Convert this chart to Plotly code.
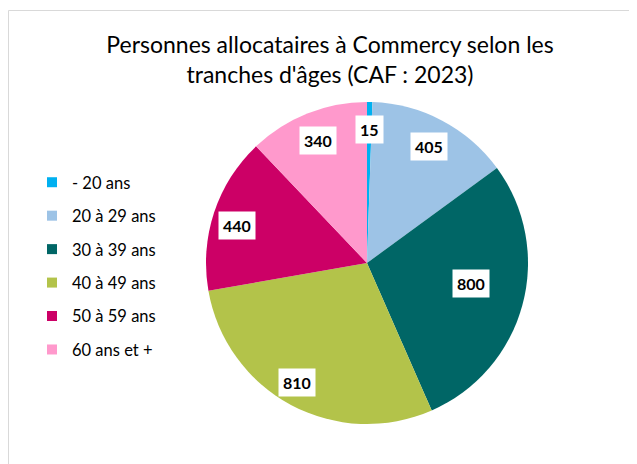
import math
import plotly.graph_objects as go

categories = ["- 20 ans", "20 à 29 ans", "30 à 39 ans", "40 à 49 ans", "50 à 59 ans", "60 ans et +"]
values = [15, 405, 800, 810, 440, 340]
colors = ["#00B0F0", "#9DC3E6", "#006666", "#B3C34A", "#CC0066", "#FF99CC"]
title_text = "Personnes allocataires à Commercy selon les<br>tranches d'âges (CAF : 2023)"

# window size and page offset (default body margin of the html page)
WIN_W, WIN_H = 637, 464
OFF = 8
W, H = WIN_W - OFF, WIN_H - OFF
FONT = "Lato"


def px_x(x):
    return (x - OFF) / W


def px_y(y):
    return 1 - (y - OFF) / H


# pie geometry in window pixels
cx, cy, R = 367, 263, 161

fig = go.Figure()
fig.add_trace(go.Pie(
    labels=categories, values=values, sort=False, direction="clockwise", rotation=0,
    marker=dict(colors=colors, line=dict(width=0)),
    textinfo="none", hoverinfo="label+value", showlegend=False,
    domain=dict(x=[px_x(cx - R), px_x(cx + R)], y=[px_y(cy + R), px_y(cy - R)]),
))

# legend entries (square markers)
for i, (c, col) in enumerate(zip(categories, colors)):
    fig.add_trace(go.Scatter(
        x=[None], y=[None], mode="markers", name=c, legendgroup=f"g{i}",
        marker=dict(symbol="square", size=10, color=col),
        showlegend=True,
    ))

# data labels with white boxes, placed along slice mid-angles (Excel "best fit" look)
label_radius = [0.83, 0.82, 0.66, 0.86, 0.84, 0.82]
label_turn = [0, 0, -4, 2, -2, 0]  # degrees of nudge from the mid-angle
total = sum(values)
cum = 0
for v, rf, dt in zip(values, label_radius, label_turn):
    mid = (cum + v / 2) / total * 2 * math.pi + math.radians(dt)
    cum += v
    lx = cx + rf * R * math.sin(mid)
    ly = cy - rf * R * math.cos(mid)
    fig.add_annotation(
        x=px_x(lx), y=px_y(ly), xref="paper", yref="paper",
        xanchor="center", yanchor="middle",
        text=f"<b>{v}</b>", showarrow=False, bgcolor="white", borderpad=4,
        font=dict(family=FONT, size=16, color="#000000"),
    )

fig.update_layout(
    width=W, height=H,
    margin=dict(l=0, r=0, t=0, b=0),
    paper_bgcolor="white", plot_bgcolor="white",
    font=dict(family=FONT, color="#000000"),
    title=dict(text=title_text, x=px_x(330), xanchor="center", y=px_y(53), yanchor="top",
               yref="container", font=dict(family=FONT, size=23, color="#000000")),
    xaxis=dict(visible=False), yaxis=dict(visible=False),
    legend=dict(x=px_x(32), xanchor="left", y=px_y(165), yanchor="top",
                tracegroupgap=9, font=dict(family=FONT, size=16.5, color="#000000"),
                bgcolor="rgba(0,0,0,0)"),
    shapes=[dict(type="rect", xref="paper", yref="paper", x0=px_x(8.5), x1=1.02, y0=-0.02, y1=px_y(10.5),
                 line=dict(color="#D9D9D9", width=1), fillcolor="rgba(0,0,0,0)", layer="below")],
)

fig.write_html("out.html")
